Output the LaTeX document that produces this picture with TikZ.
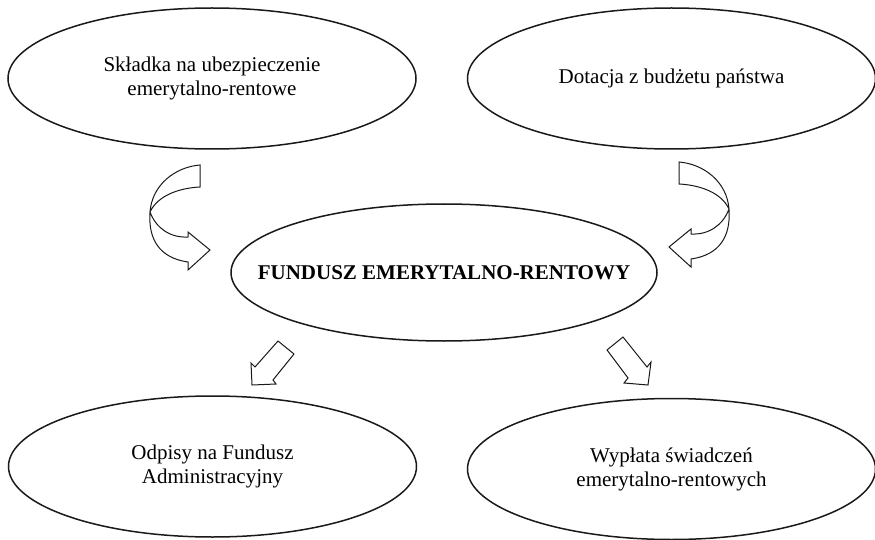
\documentclass[tikz,border=0pt]{standalone}
\usepackage{fontspec}
\setmainfont{Liberation Serif}
\usetikzlibrary{shapes.geometric}

\begin{document}
\begin{tikzpicture}[x=1pt, y=-1pt,
  pole/.style={draw=black!90, line width=1.5pt, ellipse, inner sep=0pt,
    minimum width=408pt, minimum height=141pt, align=center,
    font=\fontsize{21}{24}\selectfont},
  strzalka/.style={draw=black!90, line width=1pt, line join=miter, fill=white}]

  \useasboundingbox (0,0) rectangle (875,540);

  % --- Zrodla funduszu ---
  \node[pole] (skladka) at (212,78.5) {Składka na ubezpieczenie\\emerytalno-rentowe};
  \node[pole] (dotacja) at (671.5,78.5) {Dotacja z budżetu państwa};

  % --- Fundusz ---
  \node[pole, minimum width=426pt, minimum height=137pt] (fundusz) at (444,272.5)
    {\makebox[0pt]{\textbf{FUNDUSZ EMERYTALNO-RENTOWY}}};

  % --- Wydatki funduszu ---
  \node[pole] (odpisy) at (212.5,466.5) {Odpisy na Fundusz\\Administracyjny};
  \node[pole] (wyplata) at (671.5,469) {Wypłata świadczeń\\emerytalno-rentowych};

  % --- Strzalki wygiete ---
  \draw[strzalka] (200,165) .. controls (175,167) and (152,185) .. (150,212)
    .. controls (148,240) and (160,258) .. (188,262) -- (188,270) -- (210,250)
    -- (188,232) -- (188,237) .. controls (170,238) and (156,228) .. (150,212)
    .. controls (158,195) and (180,188) .. (200,187) -- cycle;
  \draw[strzalka] (679,162) .. controls (704,164) and (727,182) .. (729,209)
    .. controls (731,237) and (719,255) .. (691,259) -- (691,267) -- (669,247)
    -- (691,229) -- (691,234) .. controls (709,235) and (723,225) .. (729,209)
    .. controls (721,192) and (699,185) .. (679,184) -- cycle;

  % --- Strzalki proste ---
  \draw[strzalka] (278,341) -- (294,354) -- (273,380) -- (276,384) -- (252,385)
    -- (251,363) -- (255,367) -- cycle;
  \draw[strzalka] (623,337) -- (607,350) -- (628,378) -- (624,383) -- (648,385)
    -- (651,362) -- (647,367) -- cycle;

\end{tikzpicture}
\end{document}
